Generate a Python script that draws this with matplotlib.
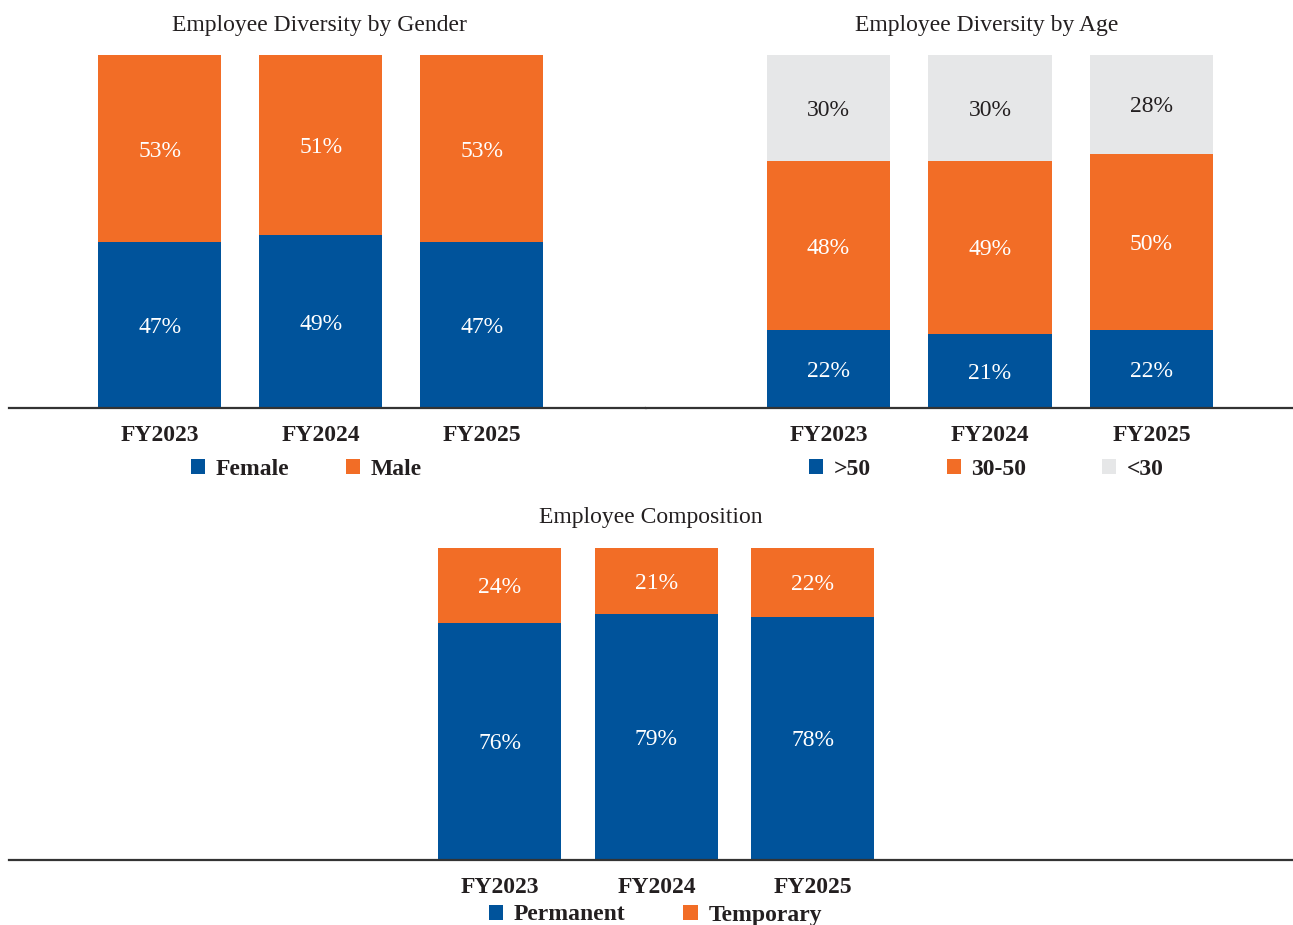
import matplotlib.pyplot as plt
from matplotlib.patches import Patch

plt.rcParams['font.family'] = ['Liberation Serif', 'DejaVu Serif']

years = ['FY2023', 'FY2024', 'FY2025']

# gender split (%)
female = [47, 49, 47]
male = [53, 51, 53]

# age split (%)
age_over50 = [22, 21, 22]
age_30_50 = [48, 49, 50]
age_under30 = [30, 30, 28]

# composition (%)
permanent = [76, 79, 78]
temporary = [24, 21, 22]

BLUE = '#00539B'
ORANGE = '#F26D26'
GREY = '#E6E7E8'
DARK = '#231F20'

W, H = 1293, 925
fig = plt.figure(figsize=(W / 100, H / 100), dpi=100)


def make_ax(x0, x1, ytop, ybot):
    # pixel box -> figure fraction
    return fig.add_axes([x0 / W, 1 - ybot / H, (x1 - x0) / W, (ybot - ytop) / H])


def stacked(ax, series, colors, txtcolors, width, xlim):
    x = list(range(len(years)))
    bottom = [0] * len(years)
    for vals, c, tc in zip(series, colors, txtcolors):
        ax.bar(x, vals, width, bottom=bottom, color=c, linewidth=0)
        for i, v in enumerate(vals):
            ax.text(x[i], bottom[i] + v / 2, f'{v}%', ha='center',
                    va='center_baseline', color=tc, fontsize=17)
        bottom = [b + v for b, v in zip(bottom, vals)]
    ax.set_xlim(*xlim)
    ax.set_ylim(0, 100)
    ax.set_xticks(x)
    ax.set_xticklabels(years, fontsize=17, fontweight='bold', color=DARK)
    ax.tick_params(axis='x', length=0, pad=12.5)
    ax.set_yticks([])
    for s in ['top', 'left', 'right']:
        ax.spines[s].set_visible(False)
    ax.spines['bottom'].set_linewidth(1.6)
    ax.spines['bottom'].set_color('#333333')


def legend(labels, colors, cx, cy, colspace):
    handles = [Patch(facecolor=c, edgecolor='none') for c in colors]
    fig.legend(handles, labels, loc='center', bbox_to_anchor=(cx / W, 1 - cy / H),
               ncol=len(labels), frameon=False, handlelength=0.6, handleheight=0.6,
               handletextpad=0.45, columnspacing=colspace,
               prop={'size': 17, 'weight': 'bold'}, labelcolor=DARK)


# gender
ax1 = make_ax(9, 646, 55, 408)
stacked(ax1, [female, male], [BLUE, ORANGE], ['white', 'white'], 0.764,
        (-0.935, 3.02))
fig.text(319.5 / W, 1 - 25 / H, 'Employee Diversity by Gender', ha='center',
         va='center', fontsize=17, color=DARK)
legend(['Female', 'Male'], [BLUE, ORANGE], 306, 469, 2.4)

# age
ax2 = make_ax(646, 1293, 55, 408)
stacked(ax2, [age_over50, age_30_50, age_under30], [BLUE, ORANGE, GREY],
        ['white', 'white', DARK], 0.762, (-1.13, 2.876))
fig.text(987 / W, 1 - 25 / H, 'Employee Diversity by Age', ha='center',
         va='center', fontsize=17, color=DARK)
legend(['>50', '30-50', '<30'], [BLUE, ORANGE, GREY], 986.5, 469, 3.2)

# composition
ax3 = make_ax(9, 1293, 548, 860)
stacked(ax3, [permanent, temporary], [BLUE, ORANGE], ['white', 'white'], 0.786,
        (-3.137, 5.067))
fig.text(650.5 / W, 1 - 518 / H, 'Employee Composition', ha='center',
         va='center', fontsize=17, color=DARK)
legend(['Permanent', 'Temporary'], [BLUE, ORANGE], 655.5, 915, 2.45)

fig.savefig('out.png', dpi=100)
